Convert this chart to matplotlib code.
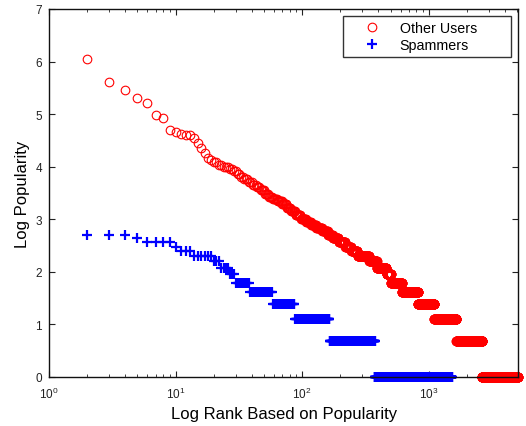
import matplotlib
matplotlib.use('Agg')
import matplotlib.pyplot as plt
import numpy as np

# ---------------------------------------------------------------------------
# Data: each level = (first rank, log popularity); a level runs until the
# next level's first rank. *_end gives the final rank of the series.
# ---------------------------------------------------------------------------

other_rank_start = [2, 3, 4, 5, 6, 7, 8, 9, 10, 11, 12, 13, 14, 15, 16, 17,
                    18, 19, 20, 22, 24, 27, 29, 31, 33, 35, 38, 41, 44, 47,
                    51, 55, 59, 64, 70, 76, 82, 89, 98, 108, 118, 130, 145,
                    160, 175, 195, 220, 245, 275, 340, 390, 465, 505, 617,
                    826, 1110, 1660, 2650]
other_log_pop = [6.05, 5.62, 5.46, 5.31, 5.21, 4.98, 4.93, 4.70, 4.66, 4.63,
                 4.61, 4.60, 4.55, 4.46, 4.35, 4.26, 4.17, 4.12, 4.08, 4.04,
                 4.00, 3.96, 3.91, 3.86, 3.81, 3.76, 3.71, 3.66, 3.61, 3.55,
                 3.49, 3.43, 3.38, 3.34, 3.29, 3.22, 3.15, 3.08, 3.00, 2.94,
                 2.89, 2.83, 2.77, 2.71, 2.64, 2.56, 2.48, 2.40, 2.30, 2.20,
                 2.08, 1.95, 1.79, 1.61, 1.39, 1.10, 0.69, 0.0]
other_end = 5050

spam_rank_start = [2, 5, 6, 10, 11, 14, 20, 23, 27, 30, 39, 59, 88, 165, 376]
spam_log_pop = [2.71, 2.64, 2.56, 2.48, 2.40, 2.30, 2.20, 2.08, 1.95, 1.79,
                1.61, 1.39, 1.10, 0.69, 0.0]
spam_end = 1520


def expand(starts, values, end):
    ranks, ys = [], []
    bounds = list(starts) + [end + 1]
    for i, v in enumerate(values):
        r = np.arange(bounds[i], bounds[i + 1])
        ranks.append(r)
        ys.append(np.full(len(r), v))
    return np.concatenate(ranks), np.concatenate(ys)


plt.rcParams['font.family'] = ['Liberation Sans', 'DejaVu Sans']

fig = plt.figure(figsize=(5.26, 4.27), dpi=100)
ax = fig.add_axes([0.0932, 0.1148, 0.8918, 0.8618])

x_o, y_o = expand(other_rank_start, other_log_pop, other_end)
x_s, y_s = expand(spam_rank_start, spam_log_pop, spam_end)

ax.plot(x_o, y_o, linestyle='none', marker='o', markersize=6.2,
        markerfacecolor='none', markeredgecolor='#ff0000', markeredgewidth=0.8,
        label='Other Users', clip_on=False)
ax.plot(x_s, y_s, linestyle='none', marker='+', markersize=6.5,
        color='#0000ff', markeredgewidth=1.6, label='Spammers', clip_on=False)

ax.set_xscale('log')
ax.set_xlim(1, 5100)
ax.set_ylim(0, 7)
ax.set_yticks(range(0, 8))

ax.tick_params(which='both', direction='in', top=True, right=True,
               labelsize=8.5, colors='#222222')
ax.tick_params(which='major', length=4, width=0.8)
ax.tick_params(axis='x', which='major', pad=6)
ax.tick_params(axis='y', which='major', pad=5)
ax.tick_params(which='minor', length=2, width=0.6)
for spine in ax.spines.values():
    spine.set_linewidth(1.0)
    spine.set_color('#111111')

ax.set_xlabel('Log Rank Based on Popularity', fontsize=12, labelpad=4)
ax.set_ylabel('Log Popularity', fontsize=12, labelpad=4)

# legend box stretched to the reference width (extra room on the right)
leg = ax.legend(loc='upper right', bbox_to_anchor=(0.627, 0.5, 0.358, 0.481),
                mode='expand', borderaxespad=0, fontsize=10.3, frameon=True,
                fancybox=False, edgecolor='black', borderpad=0.35,
                handletextpad=0.2, labelspacing=0.2, handlelength=3.4)
leg.get_frame().set_linewidth(1.0)

fig.savefig('out.png', dpi=100, facecolor='white')
